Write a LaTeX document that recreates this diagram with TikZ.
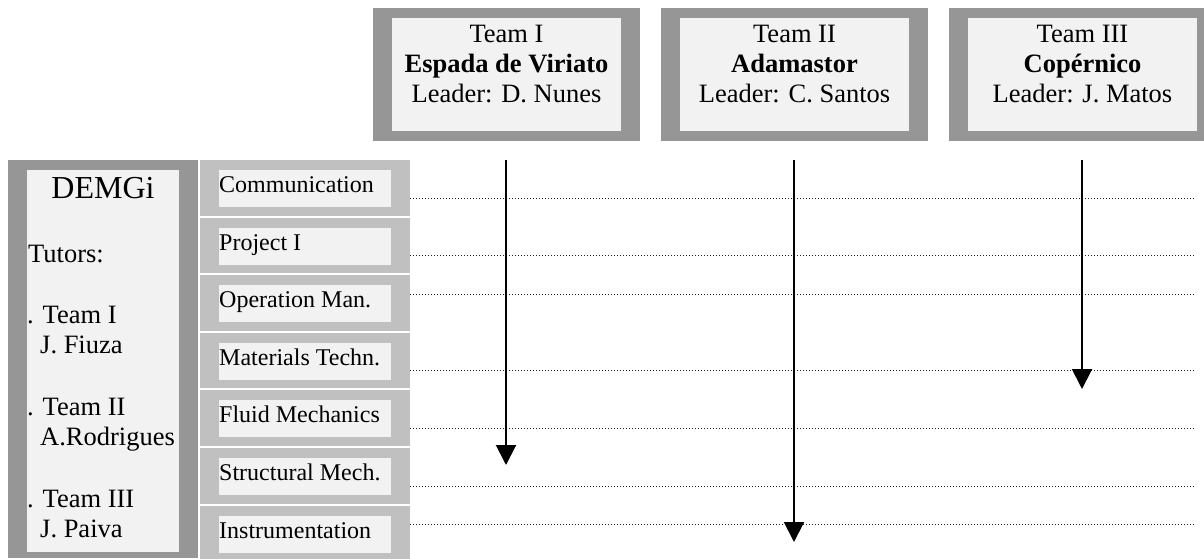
\documentclass[tikz,border=0pt]{standalone}
\usepackage{fontspec}
\setmainfont{Liberation Serif}
\usetikzlibrary{arrows.meta}
\definecolor{framedark}{RGB}{150,150,150}
\definecolor{framelight}{RGB}{192,192,192}
\definecolor{paper}{RGB}{242,242,242}
\begin{document}
\begin{tikzpicture}[x=1pt,y=-1pt,
    teamtext/.style={align=center,inner sep=0pt,font=\fontsize{26.5}{30}\selectfont},
    tutortext/.style={anchor=base west,inner sep=0pt,font=\fontsize{26.5}{30}\selectfont},
    coursetext/.style={anchor=base west,inner sep=0pt,font=\fontsize{24}{28}\selectfont},
    guide/.style={black!85,line width=1pt,dash pattern=on 1pt off 2pt},
    flow/.style={line width=2pt,-{Triangle[length=20pt,width=20pt]},
      preaction={draw=white,line width=4pt,-,shorten >=20pt}}]
  \useasboundingbox (0,0) rectangle (1204,559);
  \clip (0,0) rectangle (1204,559);
  % team boxes
  \foreach \cx in {506.5,794.5,1082.5} {
    \fill[framedark] (\cx-133.5,8) rectangle (\cx+133.5,141);
    \fill[paper] (\cx-114.5,18) rectangle (\cx+114.5,131);
  }
  \node[teamtext] (teamI) at (506.5,64.3) {Team I\\\textbf{Espada de Viriato}\\Leader: D. Nunes};
  \node[teamtext] (teamII) at (794.5,64.3) {Team II\\\textbf{Adamastor}\\Leader: C. Santos};
  \node[teamtext] (teamIII) at (1082.5,64.3) {Team III\\\textbf{Copérnico}\\Leader: J. Matos};
  % department box
  \fill[framedark] (8,160) rectangle (198,558);
  \fill[paper] (27,170) rectangle (179,552);
  \node[anchor=base,inner sep=0pt,font=\fontsize{32}{36}\selectfont] (demgi) at (103,198) {DEMGi};
  \foreach \txt/\x/\y [count=\k] in {Tutors:/28/262, . Team I/27/323, J. Fiuza/40/353,
      . Team II/27/415, A.Rodrigues/40/445, . Team III/27/507, J. Paiva/40/537}
    \node[tutortext] (tutor\k) at (\x,\y) {\txt};
  % courses and guide lines
  \foreach \name/\ly [count=\i from 0] in {Communication/198, Project I/255,
      Operation Man./294, Materials Techn./370, Fluid Mechanics/428,
      Structural Mech./486, Instrumentation/524} {
    \pgfmathsetmacro{\top}{160+57.6*\i}
    \fill[framelight] (200,\top) rectangle (410,\top+55.5);
    \fill[paper] (219,\top+10) rectangle (391,\top+47);
    \node[coursetext] (course\i) at (219,\top+32.5) {\name};
    \draw[guide] (410,\ly) -- (1195,\ly);
  }
  % team progress
  \coordinate (startI) at (506,160);   \coordinate (endI) at (506,465);
  \coordinate (startII) at (794,160);  \coordinate (endII) at (794,542);
  \coordinate (startIII) at (1082,160); \coordinate (endIII) at (1082,389);
  \draw[flow] (startI) -- (endI);
  \draw[flow] (startII) -- (endII);
  \draw[flow] (startIII) -- (endIII);
\end{tikzpicture}
\end{document}
